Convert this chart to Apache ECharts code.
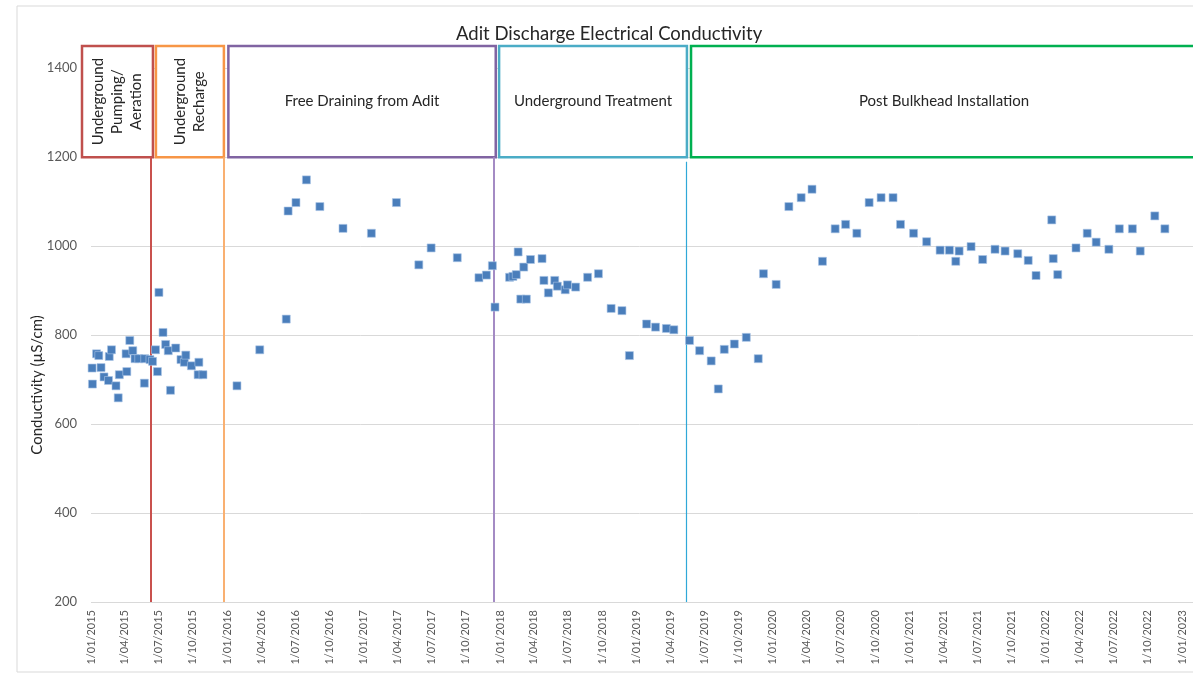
<!DOCTYPE html>
<html>
<head>
<meta charset="utf-8">
<title>Adit Discharge Electrical Conductivity</title>
<script src="https://cdn.jsdelivr.net/npm/echarts@6/dist/echarts.min.js"></script>
<style>
  html, body { margin: 0; padding: 0; background: #fff; overflow: hidden; }
  /* a few px wider than the window so the last box runs off the right edge */
  #chart { width: 1200px; height: 675px; }
</style>
</head>
<body>
<div id="chart"></div>
<script>
// sample dates + EC readings (uS/cm)
const sampleDates = [
  '2015-01-04', '2015-01-05', '2015-01-16', '2015-01-22', '2015-01-28', '2015-02-05', '2015-02-17', '2015-02-19',
  '2015-02-25', '2015-03-09', '2015-03-15', '2015-03-18', '2015-04-07', '2015-04-05', '2015-04-15', '2015-04-23',
  '2015-04-29', '2015-05-09', '2015-05-24', '2015-05-25', '2015-06-08', '2015-06-15', '2015-06-23', '2015-06-28',
  '2015-07-02', '2015-07-13', '2015-07-20', '2015-07-27', '2015-08-02', '2015-08-16', '2015-08-30', '2015-09-08',
  '2015-09-12', '2015-09-27', '2015-10-15', '2015-10-17', '2015-10-28',
  '2016-01-27', '2016-03-28', '2016-06-07', '2016-06-12', '2016-07-03', '2016-07-31', '2016-09-05', '2016-11-06',
  '2017-01-21', '2017-03-29', '2017-05-28', '2017-06-30', '2017-09-08', '2017-11-05', '2017-11-25', '2017-12-11',
  '2017-12-18',
  '2018-01-26', '2018-02-04', '2018-02-13', '2018-02-18', '2018-02-25', '2018-03-05', '2018-03-12', '2018-03-23',
  '2018-04-23', '2018-04-28', '2018-05-10', '2018-05-27', '2018-06-03', '2018-06-24', '2018-06-30', '2018-07-22',
  '2018-08-23', '2018-09-21', '2018-10-25', '2018-11-23', '2018-12-13',
  '2019-01-28', '2019-02-21', '2019-03-22', '2019-04-11', '2019-05-23', '2019-06-19', '2019-07-20', '2019-08-08',
  '2019-08-24', '2019-09-20', '2019-10-22', '2019-11-23', '2019-12-07',
  '2020-01-10', '2020-02-13', '2020-03-17', '2020-04-15', '2020-05-13', '2020-06-16', '2020-07-14', '2020-08-13',
  '2020-09-15', '2020-10-17', '2020-11-18', '2020-12-08',
  '2021-01-12', '2021-02-16', '2021-03-24', '2021-04-18', '2021-05-05', '2021-05-14', '2021-06-15', '2021-07-16',
  '2021-08-18', '2021-09-14', '2021-10-18', '2021-11-15', '2021-12-06',
  '2022-01-17', '2022-01-21', '2022-02-02', '2022-03-23', '2022-04-22', '2022-05-16', '2022-06-19', '2022-07-17',
  '2022-08-21', '2022-09-11', '2022-10-20', '2022-11-16'
];
const conductivity = [
  726, 690, 758, 754, 727, 706, 698, 752,
  767, 686, 659, 711, 718, 758, 788, 765,
  747, 747, 692, 747, 745, 741, 767, 718,
  896, 806, 779, 765, 676, 771, 745, 739,
  755, 731, 711, 739, 711,
  686, 767, 836, 1079, 1098, 1149, 1089, 1040,
  1029, 1098, 958, 996, 974, 929, 935, 956,
  863,
  930, 932, 936, 987, 881, 953, 881, 970,
  972, 923, 895, 923, 910, 902, 913, 908,
  930, 938, 860, 855, 754,
  825, 818, 815, 812, 788, 765, 742, 679,
  768, 780, 795, 747, 938,
  914, 1089, 1109, 1128, 966, 1039, 1049, 1029,
  1098, 1109, 1109, 1049,
  1029, 1010, 991, 991, 966, 989, 999, 970,
  993, 989, 983, 968, 934,
  1059, 972, 936, 996, 1029, 1009, 993, 1039,
  1039, 989, 1068, 1039
];

// quarterly x ticks
const quarterTicks = [
  '2015-01-01', '2015-04-01', '2015-07-01', '2015-10-01',
  '2016-01-01', '2016-04-01', '2016-07-01', '2016-10-01',
  '2017-01-01', '2017-04-01', '2017-07-01', '2017-10-01',
  '2018-01-01', '2018-04-01', '2018-07-01', '2018-10-01',
  '2019-01-01', '2019-04-01', '2019-07-01', '2019-10-01',
  '2020-01-01', '2020-04-01', '2020-07-01', '2020-10-01',
  '2021-01-01', '2021-04-01', '2021-07-01', '2021-10-01',
  '2022-01-01', '2022-04-01', '2022-07-01', '2022-10-01',
  '2023-01-01'
];
const yTicks = [200, 400, 600, 800, 1000, 1200, 1400];

// management phases (annotation boxes) and the change-over lines
const phaseNames = ['Underground\nPumping/\nAeration', 'Underground\nRecharge', 'Free Draining from Adit',
  'Underground Treatment', 'Post Bulkhead Installation'];
const phaseStart = ['2014-12-08', '2015-06-24', '2016-01-04', '2017-12-29', '2019-05-27'];
const phaseEnd = ['2015-06-16', '2015-12-23', '2017-12-20', '2019-05-16', '2023-02-10'];
const changeDates = ['2015-06-10', '2015-12-23', '2017-12-15', '2019-05-14'];

const boxColors = ['#C0504D', '#F79646', '#8064A2', '#4BACC6', '#00B050'];
const lineColors = ['#C9514E', '#F9B071', '#A48BC4', '#2FA8D8'];
const lineWidths = [2, 2, 2, 1.2];
const FONT = 'Lato, "Liberation Sans", sans-serif';

// dates go onto a plain value axis as UTC timestamps
function ts(s) { return Date.parse(s + 'T00:00:00Z'); }
function fmtDate(v) {
  const d = new Date(v);
  const mm = String(d.getUTCMonth() + 1).padStart(2, '0');
  return d.getUTCDate() + '/' + mm + '/' + d.getUTCFullYear();
}

const points = sampleDates.map(function (d, i) { return [ts(d), conductivity[i]]; });

const areaData = phaseNames.map(function (name, i) {
  const rotated = i < 2;
  return [{
    name: name,
    xAxis: ts(phaseStart[i]),
    yAxis: 1200,
    itemStyle: { color: '#fff', borderColor: boxColors[i], borderWidth: 2.5, opacity: 1 },
    label: {
      show: true,
      position: 'inside',
      rotate: rotated ? 90 : 0,
      color: '#262626',
      fontSize: 15,
      lineHeight: 19,
      fontFamily: FONT
    }
  }, {
    xAxis: ts(phaseEnd[i]),
    yAxis: 1450
  }];
});

const lineData = changeDates.map(function (d, i) {
  return [{
    coord: [ts(d), 200],
    lineStyle: { color: lineColors[i], width: lineWidths[i], type: 'solid' }
  }, {
    coord: [ts(d), i === 3 ? 1190 : 1200]
  }];
});

const chart = echarts.init(document.getElementById('chart'));
chart.setOption({
  backgroundColor: '#fff',
  animation: false,
  textStyle: { fontFamily: FONT },
  title: {
    text: 'Adit Discharge Electrical Conductivity',
    left: 451,
    top: 20,
    textStyle: { fontSize: 18.5, fontWeight: 'normal', color: '#262626', fontFamily: FONT }
  },
  graphic: [{
    type: 'rect',
    silent: true,
    z: 100,
    shape: { x: 17, y: 6, width: 1200, height: 666 },
    style: { fill: 'none', stroke: '#D9D9D9', lineWidth: 1 }
  }, {
    // plot area proper starts at 1/01/2015; the red box pokes out to the left of it
    type: 'rect',
    silent: true,
    z: 1,
    shape: { x: 81, y: 161, width: 10, height: 443 },
    style: { fill: '#fff' }
  }],
  grid: { left: 82, right: 3, top: 46, bottom: 73 },
  xAxis: {
    type: 'value',
    min: ts('2014-12-08'),
    max: ts('2023-02-10'),
    axisLine: { show: true, onZero: false, lineStyle: { color: '#D9D9D9', width: 1 } },
    axisTick: { show: false },
    splitLine: { show: false },
    axisLabel: {
      customValues: quarterTicks.map(ts),
      rotate: 90,
      margin: 8,
      fontSize: 11,
      color: '#595959',
      fontFamily: FONT,
      formatter: function (v) { return fmtDate(v); }
    }
  },
  yAxis: {
    type: 'value',
    min: 200,
    max: 1450,
    interval: 200,
    name: 'Conductivity (µS/cm)',
    nameLocation: 'middle',
    nameGap: 37,
    nameMoveOverlap: false,
    nameTextStyle: { fontSize: 15, color: '#262626', fontFamily: FONT, padding: [0, 122, 0, 0] },
    axisLine: { show: false },
    axisTick: { show: false },
    axisLabel: {
      customValues: yTicks,
      margin: 5,
      fontSize: 13,
      color: '#595959',
      fontFamily: FONT,
      formatter: function (v) { return String(v); }
    },
    splitLine: { show: true, showMaxLine: false, lineStyle: { color: '#D9D9D9', width: 1 } }
  },
  series: [{
    name: 'EC',
    type: 'scatter',
    clip: false,
    data: points,
    symbol: 'rect',
    symbolSize: 8,
    itemStyle: { color: '#4A7EBB', borderColor: '#A9C4E6', borderWidth: 0.6, opacity: 1 },
    z: 5,
    markArea: {
      silent: true,
      data: areaData
    },
    markLine: {
      silent: true,
      symbol: 'none',
      label: { show: false },
      data: lineData
    }
  }]
});
</script>
</body>
</html>
